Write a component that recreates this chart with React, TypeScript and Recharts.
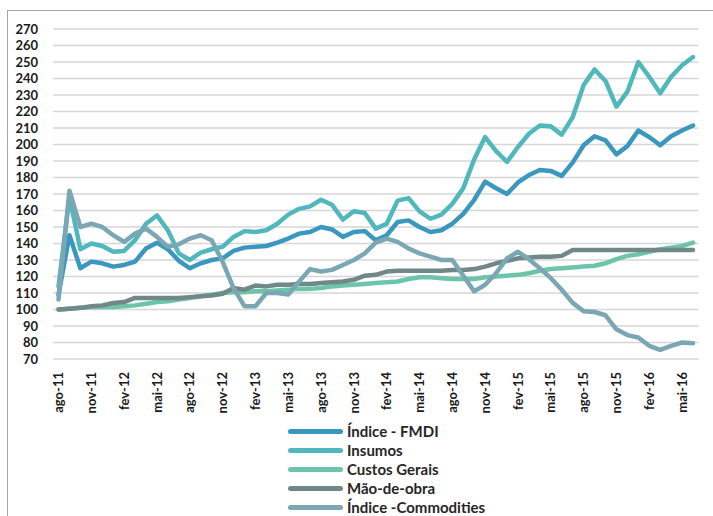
import React from 'react';
import { LineChart, Line, XAxis, YAxis, CartesianGrid } from 'recharts';

const months = [
  'ago-11', 'set-11', 'out-11', 'nov-11', 'dez-11', 'jan-12', 'fev-12', 'mar-12', 'abr-12', 'mai-12',
  'jun-12', 'jul-12', 'ago-12', 'set-12', 'out-12', 'nov-12', 'dez-12', 'jan-13', 'fev-13', 'mar-13',
  'abr-13', 'mai-13', 'jun-13', 'jul-13', 'ago-13', 'set-13', 'out-13', 'nov-13', 'dez-13', 'jan-14',
  'fev-14', 'mar-14', 'abr-14', 'mai-14', 'jun-14', 'jul-14', 'ago-14', 'set-14', 'out-14', 'nov-14',
  'dez-14', 'jan-15', 'fev-15', 'mar-15', 'abr-15', 'mai-15', 'jun-15', 'jul-15', 'ago-15', 'set-15',
  'out-15', 'nov-15', 'dez-15', 'jan-16', 'fev-16', 'mar-16', 'abr-16', 'mai-16', 'jun-16',
];

const fmdi = [
  109, 145, 125, 129, 128, 126, 127, 129, 137, 140.5,
  136.5, 129.5, 125, 128, 130, 131, 135.5, 137.5, 138, 138.5,
  140.5, 143, 146, 147, 150, 148.5, 144, 147, 147.5, 142,
  145, 153, 154, 150, 147, 148, 152, 158, 166.5, 177.5,
  173.5, 170, 177, 181.5, 184.5, 184, 181, 189, 199.5, 205,
  202.5, 194, 199, 208.5, 204.5, 199.5, 205, 208.5, 211.5,
];

const insumos = [
  114, 168, 136.5, 140, 138.5, 135, 135.5, 142, 152, 157,
  148, 134, 130, 134.5, 136.5, 138, 144, 147.5, 147, 148,
  152, 157.5, 161, 162.5, 166.5, 163.5, 154.5, 159.5, 158.5, 149,
  152, 166, 167.5, 159.5, 155, 157.5, 164, 173.5, 191, 204.5,
  196, 189.5, 198.5, 206.5, 211.5, 211, 206, 216.5, 236, 245.5,
  238.5, 223, 232, 250, 241, 231, 241, 248, 253,
];

const custosGerais = [
  100, 100.5, 101, 101.5, 101.5, 101.5, 102, 102.5, 103.5, 104.5,
  105, 106, 107, 108, 109, 110, 110.5, 110.5, 111, 111,
  111.5, 112, 112.5, 112.5, 113, 114, 114.5, 115, 115.5, 116,
  116.5, 117, 118.5, 119.5, 119.5, 119, 118.5, 118.5, 118.5, 119.5,
  120, 120.5, 121, 122, 123.5, 124.5, 125, 125.5, 126, 126.5,
  128, 130.5, 132.5, 133.5, 135, 136.5, 137.5, 138.5, 140.5,
];

const maoDeObra = [
  100, 100.5, 101, 102, 102.5, 104, 104.5, 107, 107, 107,
  107, 107, 107.5, 108, 108.5, 109.5, 113, 112, 114.5, 114,
  115, 115, 115.5, 115.5, 116, 116.5, 117, 118, 120.5, 121,
  123, 123.5, 123.5, 123.5, 123.5, 123.5, 124, 124, 124.5, 126,
  128, 129.5, 131, 131.5, 132, 132, 132.5, 136, 136, 136,
  136, 136, 136, 136, 136, 136, 136, 136, 136,
];

const commodities = [
  106, 172, 150, 152, 150, 145, 141, 146, 149, 144,
  138, 139.5, 143, 145, 142, 129, 113, 102, 102, 110,
  110, 109, 117, 124.5, 123, 124, 127, 130, 134, 140.5,
  143, 141, 137, 134, 132, 130, 130, 120.5, 111, 115,
  122, 131, 135, 130.5, 125, 119, 112, 104, 99, 98.5,
  96.5, 88, 84.5, 83, 78, 75.5, 78, 80, 79.5,
];

const yTicks = [70, 80, 90, 100, 110, 120, 130, 140, 150, 160, 170, 180, 190, 200, 210, 220, 230, 240, 250, 260, 270];

const series = [
  { key: 'fmdi', name: 'Índice - FMDI', color: '#3a97bf', values: fmdi },
  { key: 'insumos', name: 'Insumos', color: '#50b8bc', values: insumos },
  { key: 'custos', name: 'Custos Gerais', color: '#6cc4a9', values: custosGerais },
  { key: 'mao', name: 'Mão-de-obra', color: '#718888', values: maoDeObra },
  { key: 'commodities', name: 'Índice -Commodities', color: '#7ba7b4', values: commodities },
];

const data = months.map((m, i) => {
  const row: { [k: string]: string | number } = { month: m };
  series.forEach((s) => {
    row[s.key] = s.values[i];
  });
  return row;
});

const FONT = 'Lato, "Open Sans", sans-serif';

const MonthTick = (props: any) => {
  const { x, y, payload } = props;
  return (
    <text
      x={x}
      y={y}
      transform={`rotate(-90 ${x} ${y})`}
      textAnchor="end"
      dy="0.36em"
      fill="#1a1a1a"
      fontSize={13}
      fontWeight={700}
      fontFamily={FONT}
    >
      {payload.value}
    </text>
  );
};

export default function App() {
  return (
    <div
      style={{
        position: 'absolute',
        left: 0,
        top: 0,
        width: 713,
        height: 516,
        background: '#fff',
        overflow: 'hidden',
      }}
    >
      <div
        style={{
          position: 'absolute',
          left: 7,
          top: 10,
          width: 720,
          height: 520,
          border: '1.5px solid #a6a6a6',
        }}
      />
      <div style={{ position: 'absolute', left: 0, top: 0 }}>
        <LineChart
          width={713}
          height={516}
          data={data}
          margin={{ top: 29, right: 14.5, bottom: 107, left: 8 }}
        >
          <CartesianGrid vertical={false} stroke="#d6d6d6" strokeWidth={1.5} />
          <XAxis
            dataKey="month"
            interval={2}
            axisLine={false}
            tickLine={false}
            tickSize={0}
            tickMargin={13}
            height={50}
            padding={{ left: 5.5, right: 5.5 }}
            tick={<MonthTick />}
          />
          <YAxis
            domain={[70, 270]}
            ticks={yTicks}
            interval={0}
            axisLine={false}
            tickLine={false}
            tickSize={0}
            tickMargin={15}
            width={45}
            tick={{ fill: '#1a1a1a', fontSize: 13, fontWeight: 700, fontFamily: FONT }}
          />
          {series.map((s) => (
            <Line
              key={s.key}
              dataKey={s.key}
              name={s.name}
              stroke={s.color}
              strokeWidth={4.5}
              strokeLinejoin="round"
              strokeLinecap="round"
              dot={false}
              activeDot={false}
              type="linear"
              isAnimationActive={false}
            />
          ))}
        </LineChart>
      </div>
      <div style={{ position: 'absolute', left: 288, top: 422 }}>
        {series.map((s) => (
          <div
            key={s.key}
            style={{ display: 'flex', alignItems: 'center', height: 19 }}
          >
            <div
              style={{
                width: 55,
                height: 5,
                borderRadius: 3,
                background: s.color,
                marginRight: 4,
              }}
            />
            <span
              style={{
                fontFamily: FONT,
                fontSize: 15,
                fontWeight: 700,
                color: '#262626',
                lineHeight: '19px',
                whiteSpace: 'nowrap',
              }}
            >
              {s.name}
            </span>
          </div>
        ))}
      </div>
    </div>
  );
}
